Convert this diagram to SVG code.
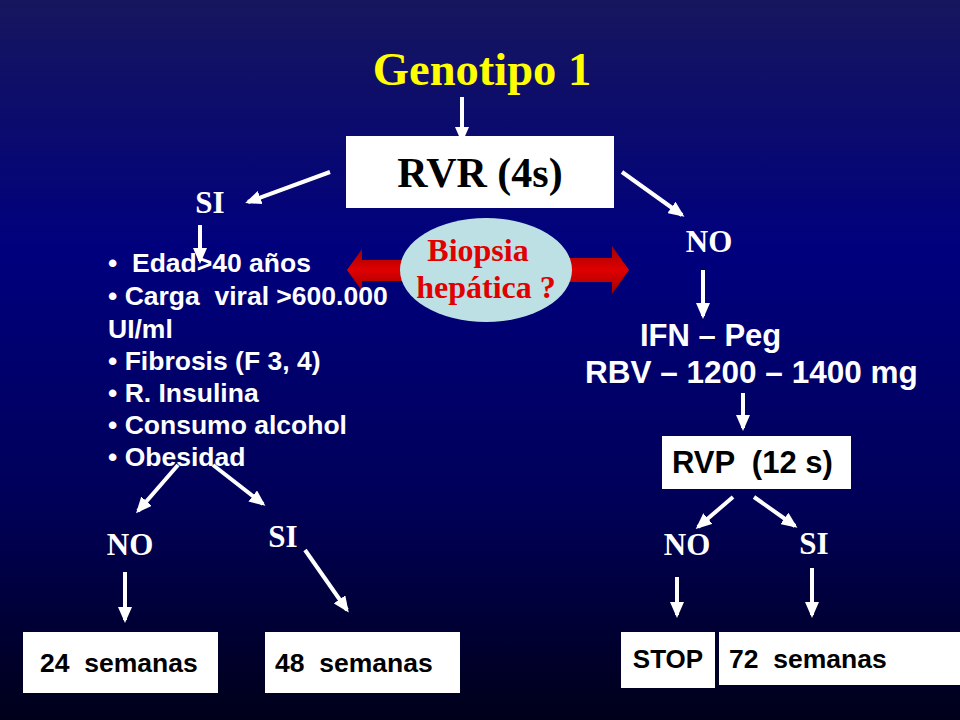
<svg xmlns="http://www.w3.org/2000/svg" width="960" height="720" viewBox="0 0 960 720">
<defs>
<linearGradient id="bg" x1="0" y1="0" x2="0" y2="1">
<stop offset="0" stop-color="#16165e"/>
<stop offset="0.35" stop-color="#00007e"/>
<stop offset="0.7" stop-color="#000058"/>
<stop offset="1" stop-color="#00001a"/>
</linearGradient>
<linearGradient id="red" x1="0" y1="0" x2="0" y2="1">
<stop offset="0" stop-color="#a00000"/>
<stop offset="0.5" stop-color="#e00000"/>
<stop offset="1" stop-color="#a00000"/>
</linearGradient>
<marker id="ah" viewBox="0 0 16 14" refX="13" refY="7" markerWidth="16" markerHeight="14" markerUnits="userSpaceOnUse" orient="auto">
<path d="M0,0 L16,7 L0,14 Z" fill="#ffffff"/>
</marker>
</defs>
<style>
.con line{stroke:#ffffff;stroke-width:4;marker-end:url(#ah)}
.box{fill:#ffffff}
.sans{font-family:"Liberation Sans",Arial,sans-serif;font-weight:bold}
.serif{font-family:"Liberation Serif","Times New Roman",serif;font-weight:bold}
.wt{fill:#ffffff}
.bk{fill:#000000}
.lbl{font-size:31px}
.bul{font-size:26.5px}
.wk{font-size:26.5px}
text{white-space:pre}
</style>
<rect x="0" y="0" width="960" height="720" fill="url(#bg)"/>

<g id="title">
<text x="482" y="85" text-anchor="middle" class="serif" font-size="46.5" fill="#ffff00">Genotipo 1</text>
</g>

<g id="rvr">
<rect class="box" x="346" y="136" width="268" height="72"/>
<text x="480" y="187" text-anchor="middle" class="serif bk" font-size="42">RVR (4s)</text>
</g>

<g id="biopsia">
<polygon points="347,270 362,249 362,260 410,260 410,281 362,281 362,291" fill="url(#red)"/>
<polygon points="629,270 612,246 612,258 560,258 560,282 612,282 612,294" fill="url(#red)"/>
<ellipse cx="486" cy="270" rx="86" ry="52" fill="#bde0e5"/>
<text x="478" y="261" text-anchor="middle" class="serif" font-size="32" fill="#e00000">Biopsia</text>
<text x="486" y="298" text-anchor="middle" class="serif" font-size="32" fill="#e00000">hepática ?</text>
</g>

<g id="si1"><text x="210" y="213" text-anchor="middle" class="serif wt lbl">SI</text></g>
<g id="no1"><text x="709" y="252" text-anchor="middle" class="serif wt lbl">NO</text></g>

<g id="criterios" class="sans wt bul">
<text x="108" y="272">•  Edad&gt;40 años</text>
<text x="108" y="305">• Carga  viral &gt;600.000</text>
<text x="108" y="338">UI/ml</text>
<text x="108" y="370">• Fibrosis (F 3, 4)</text>
<text x="108" y="402">• R. Insulina</text>
<text x="108" y="434">• Consumo alcohol</text>
<text x="108" y="466">• Obesidad</text>
</g>

<g id="no2"><text x="130" y="555" text-anchor="middle" class="serif wt lbl">NO</text></g>
<g id="si2"><text x="283" y="547" text-anchor="middle" class="serif wt lbl">SI</text></g>

<g id="sem24">
<rect class="box" x="23" y="632" width="195" height="61"/>
<text x="40" y="672" class="sans bk wk">24  semanas</text>
</g>
<g id="sem48">
<rect class="box" x="265" y="632" width="195" height="61"/>
<text x="275" y="672" class="sans bk wk">48  semanas</text>
</g>

<g id="tratamiento" class="sans wt">
<text x="640" y="346" font-size="31">IFN – Peg</text>
<text x="585" y="383" font-size="31.5">RBV – 1200 – 1400 mg</text>
</g>

<g id="rvp">
<rect class="box" x="662" y="436" width="189" height="53"/>
<text x="672" y="473" class="sans bk" font-size="31">RVP  (12 s)</text>
</g>

<g id="no3"><text x="687" y="555" text-anchor="middle" class="serif wt lbl">NO</text></g>
<g id="si3"><text x="814" y="554" text-anchor="middle" class="serif wt lbl">SI</text></g>

<g id="stop">
<rect class="box" x="621" y="632" width="94" height="56"/>
<text x="668" y="668" text-anchor="middle" class="sans bk" font-size="26">STOP</text>
</g>
<g id="sem72">
<rect class="box" x="719" y="632" width="241" height="53"/>
<text x="729" y="668" class="sans bk wk">72  semanas</text>
</g>

<g id="connectors" class="con">
<line x1="462" y1="97" x2="462" y2="140"/>
<line x1="330" y1="172" x2="248" y2="202"/>
<line x1="622" y1="172" x2="682" y2="215"/>
<line x1="200" y1="225" x2="200" y2="261"/>
<line x1="703" y1="270" x2="703" y2="316"/>
<line x1="178" y1="465" x2="138" y2="511"/>
<line x1="213" y1="465" x2="263" y2="504"/>
<line x1="125" y1="572" x2="125" y2="620"/>
<line x1="305" y1="550" x2="347" y2="610"/>
<line x1="743" y1="393" x2="743" y2="428"/>
<line x1="733" y1="497" x2="698" y2="527"/>
<line x1="754" y1="497" x2="795" y2="526"/>
<line x1="677" y1="577" x2="677" y2="615"/>
<line x1="812" y1="568" x2="812" y2="615"/>
</g>
</svg>
